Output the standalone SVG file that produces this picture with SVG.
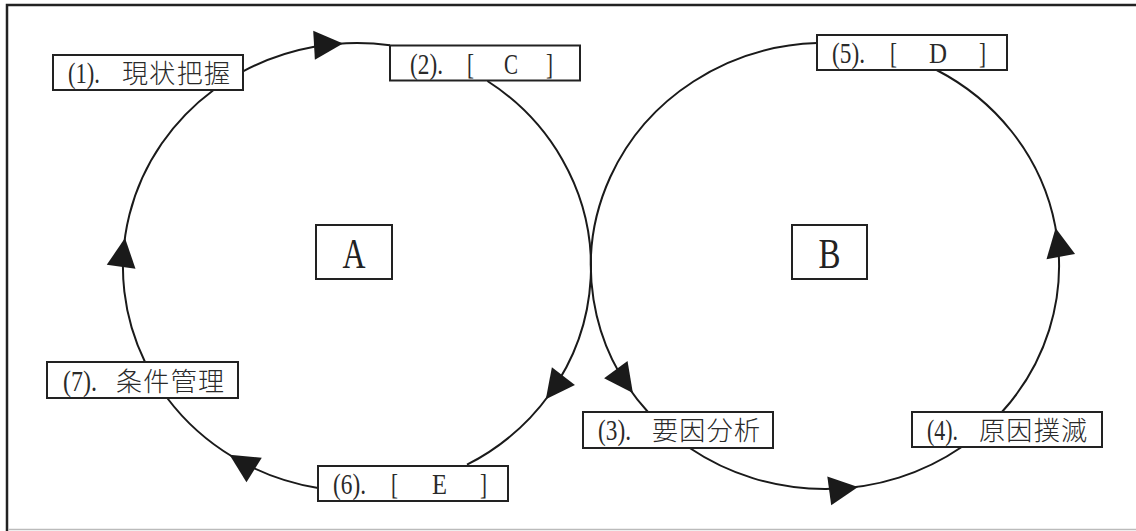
<svg xmlns="http://www.w3.org/2000/svg" xmlns:xlink="http://www.w3.org/1999/xlink" width="1136" height="531" viewBox="0 0 1136 531">
  <style>
    .frame { stroke: #222; stroke-width: 2.5; fill: none; }
    .frame-b { stroke: #bbb; stroke-width: 1.5; fill: none; }
    .arc { stroke: #1a1a1a; stroke-width: 2; fill: none; }
    .box { fill: #fff; stroke: #222; stroke-width: 2; }
    .lat { font-family: "Liberation Serif", "Times New Roman", serif; font-size: 30px; fill: #2a2a2a; }
    .jp { font-family: "Noto Sans CJK JP", "Noto Sans CJK SC", sans-serif; font-size: 26px; font-weight: 300; fill: #2a2a2a; }
    .big { font-family: "Liberation Serif", "Times New Roman", serif; font-size: 42px; fill: #222; text-anchor: middle; }
  </style>
  <defs>
    <!-- filled arrowhead, tip at the origin, pointing along +x -->
    <polygon id="ah" points="0,0 -29,-14.5 -29,14.5" fill="#1a1a1a"/>
  </defs>

  <!-- outer frame -->
  <path class="frame" d="M7,531 V5 H1136"/>
  <path class="frame-b" d="M8,529.5 H1136"/>

  <!-- connectors: left loop (clockwise) and right loop (counter-clockwise) -->
  <g id="connectors">
    <!-- loop A: centre (357,267), rx 234, ry 224 -->
    <path class="arc" d="M243,71.4 A234,224 0 0 1 390,45.2"/>
    <path class="arc" d="M487.4,81 A234,224 0 0 1 467,464.7"/>
    <path class="arc" d="M318,488 A234,224 0 0 1 167.2,398"/>
    <path class="arc" d="M145,362 A234,224 0 0 1 213.6,90"/>
    <!-- loop B: centre (825,266), rx 234, ry 223 -->
    <path class="arc" d="M689.7,448 A234,223 0 0 0 961.7,447"/>
    <path class="arc" d="M1001.9,412 A234,223 0 0 0 936.6,70"/>
    <path class="arc" d="M817,43.1 A234,223 0 0 0 648,412"/>

    <!-- arrowheads -->
    <use xlink:href="#ah" transform="translate(343,43.6) rotate(-3.3)"/>
    <use xlink:href="#ah" transform="translate(545.8,399.2) rotate(127.4)"/>
    <use xlink:href="#ah" transform="translate(229.5,454.7) rotate(211.9)"/>
    <use xlink:href="#ah" transform="translate(125,238) rotate(-82.3)"/>
    <use xlink:href="#ah" transform="translate(632.9,393.1) rotate(53.9)"/>
    <use xlink:href="#ah" transform="translate(858,487) rotate(-7.7)"/>
    <use xlink:href="#ah" transform="translate(1055.6,228) rotate(-100.3)"/>
  </g>

  <!-- loop titles -->
  <g id="node-A">
    <rect class="box" x="316" y="225" width="76" height="54"/>
    <text class="big" x="354" y="268" textLength="23" lengthAdjust="spacingAndGlyphs">A</text>
  </g>
  <g id="node-B">
    <rect class="box" x="792" y="225" width="75" height="54"/>
    <text class="big" x="829.5" y="268" textLength="22" lengthAdjust="spacingAndGlyphs">B</text>
  </g>

  <!-- step labels -->
  <g id="node-1">
    <rect class="box" x="53" y="55" width="190" height="35"/>
    <text class="lat" x="68" y="83" textLength="32" lengthAdjust="spacingAndGlyphs">(1).</text>
    <text class="jp" x="122" y="82.5" textLength="108">現状把握</text>
  </g>
  <g id="node-2">
    <rect class="box" x="390" y="45.5" width="190" height="35"/>
    <text class="lat" x="410" y="74" textLength="33" lengthAdjust="spacingAndGlyphs">(2).</text>
    <text class="lat" x="467" y="74" textLength="7" lengthAdjust="spacingAndGlyphs">[</text>
    <text class="lat" x="504" y="74" textLength="14" lengthAdjust="spacingAndGlyphs">C</text>
    <text class="lat" x="546" y="74" textLength="7" lengthAdjust="spacingAndGlyphs">]</text>
  </g>
  <g id="node-3">
    <rect class="box" x="583" y="412" width="190" height="36"/>
    <text class="lat" x="598" y="440" textLength="33" lengthAdjust="spacingAndGlyphs">(3).</text>
    <text class="jp" x="652" y="439.5" textLength="108">要因分析</text>
  </g>
  <g id="node-4">
    <rect class="box" x="912" y="412" width="190" height="35"/>
    <text class="lat" x="927" y="440" textLength="31" lengthAdjust="spacingAndGlyphs">(4).</text>
    <text class="jp" x="979" y="439.5" textLength="108">原因撲滅</text>
  </g>
  <g id="node-5">
    <rect class="box" x="817" y="35" width="190" height="35"/>
    <text class="lat" x="832" y="63" textLength="33" lengthAdjust="spacingAndGlyphs">(5).</text>
    <text class="lat" x="890" y="63" textLength="7" lengthAdjust="spacingAndGlyphs">[</text>
    <text class="lat" x="929" y="63" textLength="18" lengthAdjust="spacingAndGlyphs">D</text>
    <text class="lat" x="979" y="63" textLength="7" lengthAdjust="spacingAndGlyphs">]</text>
  </g>
  <g id="node-6">
    <rect class="box" x="318" y="466" width="190" height="35"/>
    <text class="lat" x="333" y="494" textLength="33" lengthAdjust="spacingAndGlyphs">(6).</text>
    <text class="lat" x="391" y="494" textLength="7" lengthAdjust="spacingAndGlyphs">[</text>
    <text class="lat" x="432" y="494" textLength="15" lengthAdjust="spacingAndGlyphs">E</text>
    <text class="lat" x="480" y="494" textLength="7" lengthAdjust="spacingAndGlyphs">]</text>
  </g>
  <g id="node-7">
    <rect class="box" x="47" y="362" width="191" height="36"/>
    <text class="lat" x="63" y="391" textLength="34" lengthAdjust="spacingAndGlyphs">(7).</text>
    <text class="jp" x="116" y="390.5" textLength="108">条件管理</text>
  </g>
</svg>
